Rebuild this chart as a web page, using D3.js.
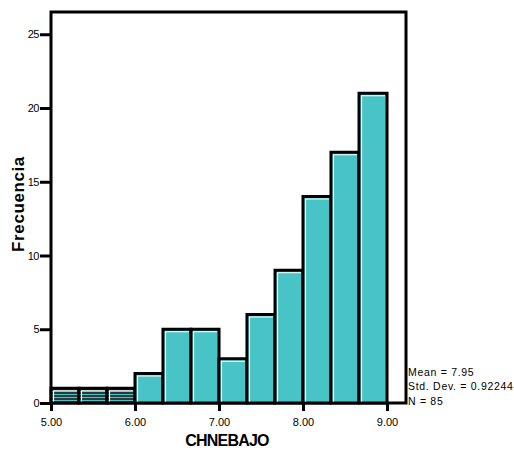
<!DOCTYPE html>
<html>
<head>
<meta charset="utf-8">
<script src="https://cdn.jsdelivr.net/npm/d3@7"></script>
<style>
  html, body { margin: 0; padding: 0; background: #fff; }
  svg { display: block; font-family: Arial, "Liberation Sans", sans-serif; }
</style>
</head>
<body>
<svg id="chart" width="514" height="450"></svg>
<script>
// ---- data ----
const binStarts = [5.00, 5.333, 5.667, 6.00, 6.333, 6.667, 7.00, 7.333, 7.667, 8.00, 8.333, 8.667];
const binWidth = 1 / 3;
const counts = [1, 1, 1, 2, 5, 5, 3, 6, 9, 14, 17, 21];
const xTickValues = [5, 6, 7, 8, 9];
const xTickLabels = ["5.00", "6.00", "7.00", "8.00", "9.00"];
const yTickValues = [0, 5, 10, 15, 20, 25];
const statsLines = ["Mean = 7.95", "Std. Dev. = 0.92244", "N = 85"];
const xTitle = "CHNEBAJO";
const yTitle = "Frecuencia";

// ---- layout ----
const svg = d3.select("#chart");
const pLeft = 51, pRight = 406, pTop = 12, pBottom = 403;
const x = d3.scaleLinear().domain([5, 5 + (pRight - pLeft) / 84]).range([pLeft, pRight]);
const y = d3.scaleLinear().domain([0, (pBottom - pTop) / 14.75]).range([pBottom, pTop]);
const teal = "#48c3c6";

const defs = svg.append("defs");
const pat = defs.append("pattern").attr("id", "lowbar")
  .attr("patternUnits", "userSpaceOnUse").attr("width", 6).attr("height", 3);
pat.append("rect").attr("width", 6).attr("height", 3).attr("fill", "#1a1a1a");
pat.append("rect").attr("width", 6).attr("height", 1.4).attr("y", 0.8).attr("fill", teal);

// frame
svg.append("rect")
  .attr("x", pLeft).attr("y", pTop)
  .attr("width", pRight - pLeft).attr("height", pBottom - pTop)
  .attr("fill", "none").attr("stroke", "#000").attr("stroke-width", 3);

// bars
const bars = svg.append("g");
binStarts.forEach((b, i) => {
  const x0 = x(b), x1 = x(b + binWidth);
  const yt = y(counts[i]);
  bars.append("rect")
    .attr("x", x0).attr("y", yt)
    .attr("width", x1 - x0).attr("height", pBottom - yt)
    .attr("fill", counts[i] <= 1 ? "url(#lowbar)" : teal)
    .attr("stroke", "#000").attr("stroke-width", 3);
  bars.append("path")
    .attr("d", `M${x0 + 2.5},${pBottom - 1.5}V${yt + 2.5}H${x1 - 2}`)
    .attr("fill", "none").attr("stroke", "#fff").attr("stroke-width", 1.2);
});

// y axis
const yAxis = d3.axisLeft(y).tickValues(yTickValues).tickSize(11).tickPadding(1).tickFormat(d3.format("d"));
const gy = svg.append("g").attr("transform", `translate(${pLeft},0)`).call(yAxis);
gy.select(".domain").remove();
gy.selectAll(".tick line").attr("stroke", "#000").attr("stroke-width", 3);
gy.selectAll(".tick text").attr("font-size", 11).attr("fill", "#000")
  .attr("font-family", "Arial, 'Liberation Sans', sans-serif").attr("letter-spacing", "-0.5");

// x axis
const xAxis = d3.axisBottom(x).tickValues(xTickValues).tickSize(8).tickPadding(7)
  .tickFormat((d, i) => xTickLabels[i]);
const gx = svg.append("g").attr("transform", `translate(0,${pBottom})`).call(xAxis);
gx.select(".domain").remove();
gx.selectAll(".tick line").attr("stroke", "#000").attr("stroke-width", 3);
gx.selectAll(".tick text").attr("font-size", 11).attr("fill", "#000")
  .attr("font-family", "Arial, 'Liberation Sans', sans-serif");

// titles
svg.append("text")
  .attr("x", 227).attr("y", 446)
  .attr("text-anchor", "middle")
  .attr("font-size", 16).attr("font-weight", "bold").attr("letter-spacing", "-0.8")
  .text(xTitle);

svg.append("text")
  .attr("transform", "translate(23.5,204) rotate(-90)")
  .attr("text-anchor", "middle")
  .attr("font-size", 17).attr("font-weight", "bold").attr("letter-spacing", "0.6")
  .text(yTitle);

// stats
svg.append("g").selectAll("text").data(statsLines).join("text")
  .attr("x", 408).attr("y", (d, i) => 375.5 + i * 14.7)
  .attr("font-size", 10.5).attr("letter-spacing", "0.7").attr("fill", "#000")
  .text(d => d);
</script>
</body>
</html>
